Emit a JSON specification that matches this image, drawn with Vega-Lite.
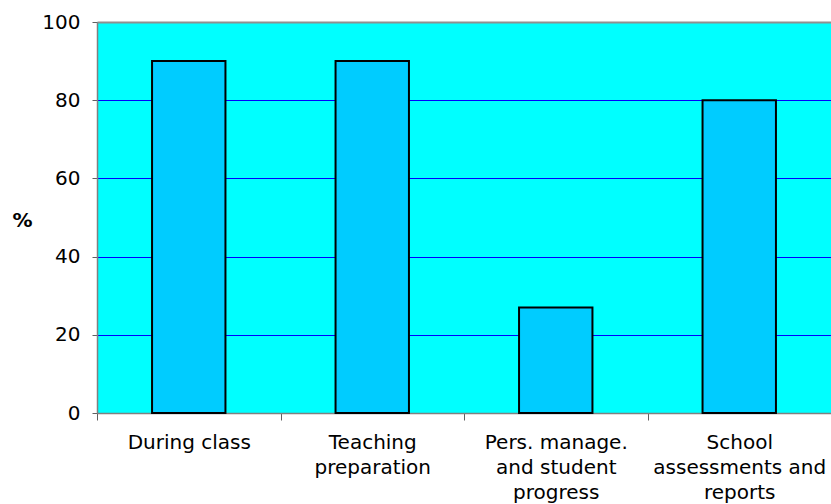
{
  "$schema": "https://vega.github.io/schema/vega-lite/v6.json",
  "width": 734,
  "height": 391,
  "autosize": {"type": "none"},
  "padding": {"left": 97, "top": 22, "right": 0, "bottom": 91},
  "background": "#ffffff",
  "config": {
    "font": "DejaVu Sans",
    "view": {"fill": "#00ffff", "stroke": null}
  },
  "data": {
    "values": [
      {"activity": "During class", "pct": 90},
      {"activity": "Teaching\npreparation", "pct": 90},
      {"activity": "Pers. manage.\nand student\nprogress", "pct": 27},
      {"activity": "School\nassessments and\nreports", "pct": 80}
    ]
  },
  "mark": {"type": "bar", "fill": "#00ccff", "stroke": "#000000", "strokeWidth": 2, "width": {"band": 0.4}},
  "encoding": {
    "x": {
      "field": "activity",
      "type": "nominal",
      "sort": null,
      "scale": {"paddingInner": 0, "paddingOuter": 0},
      "axis": {
        "title": null,
        "labelAngle": 0,
        "labelExpr": "datum.value ? split(datum.value, '\\n') : ''",
        "labelFontSize": 20,
        "labelColor": "#000000",
        "labelLineHeight": 25,
        "labelPadding": 12,
        "labelBaseline": "top",
        "tickBand": "extent",
        "tickSize": 7,
        "tickColor": "#606060",
        "domainColor": "#808080",
        "domainWidth": 1.5,
        "grid": false
      }
    },
    "y": {
      "field": "pct",
      "type": "quantitative",
      "scale": {"domain": [0, 100], "nice": false},
      "axis": {
        "title": "%",
        "titleAngle": 0,
        "titleFontSize": 20,
        "titleFontWeight": "bold",
        "titleAlign": "center",
        "titleBaseline": "middle",
        "titleX": -75,
        "titleY": 198,
        "values": [0, 20, 40, 60, 80, 100],
        "labelFontSize": 20,
        "labelColor": "#000000",
        "labelPadding": 12,
        "tickSize": 5,
        "tickColor": "#606060",
        "domainColor": "#808080",
        "domainWidth": 1.5,
        "grid": true,
        "gridColor": {"condition": {"test": "datum.value === 100", "value": "#909090"}, "value": "#0000ff"},
        "gridWidth": {"condition": {"test": "datum.value === 100", "value": 2}, "value": 1},
        "gridOpacity": 1
      }
    }
  }
}
